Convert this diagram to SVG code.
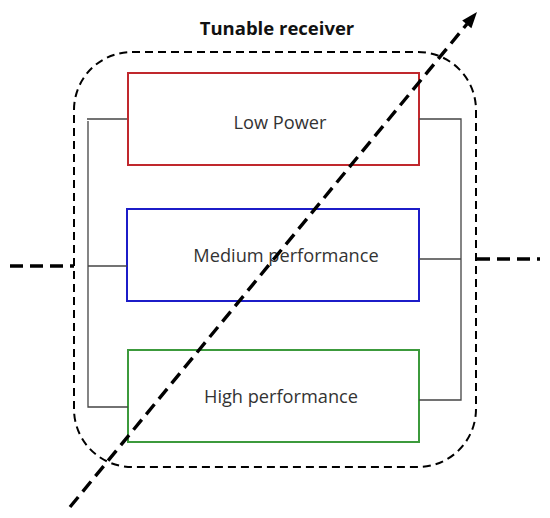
<svg xmlns="http://www.w3.org/2000/svg" width="550" height="518" viewBox="0 0 550 518">
<style>
.lbl{font-family:"Open Sans","Noto Sans",sans-serif;font-size:18.2px;fill:#333;text-anchor:middle}
.title{font-family:"Open Sans","Noto Sans",sans-serif;font-size:18.5px;font-weight:bold;fill:#111;text-anchor:middle}
.box{fill:none;stroke-width:2}
.wire{fill:none;stroke:#444;stroke-width:1.3}
.dash{fill:none;stroke:#000;stroke-width:3.4;stroke-dasharray:13 7}
</style>
<rect width="550" height="518" fill="#fff"/>
<g id="receiver">
<rect x="74" y="52" width="402" height="415" rx="58" ry="58" fill="none" stroke="#000" stroke-width="2" stroke-dasharray="8 5"/>
<text class="title" x="277" y="35">Tunable receiver</text>
</g>
<g id="low-power">
<rect class="box" x="128" y="73" width="291" height="92" stroke="#c0282d"/>
<text class="lbl" x="280" y="129">Low Power</text>
</g>
<g id="medium-performance">
<rect class="box" x="127" y="209" width="292" height="92" stroke="#1c1cc8"/>
<text class="lbl" x="286" y="262">Medium performance</text>
</g>
<g id="high-performance">
<rect class="box" x="128" y="350" width="291" height="92" stroke="#3c9a3c"/>
<text class="lbl" x="281" y="403">High performance</text>
</g>
<g id="connectors">
<polyline class="wire" points="127,119 87,119"/>
<polyline class="wire" points="88,121 88,407 128,407"/>
<line class="wire" x1="88" y1="266" x2="127" y2="266"/>
<polyline class="wire" points="419,119 461,119 461,400 419,400"/>
<line class="wire" x1="419" y1="259" x2="461" y2="259"/>
<line class="dash" x1="10" y1="266" x2="74" y2="266"/>
<line class="dash" x1="477" y1="259" x2="540" y2="259"/>
<line class="dash" x1="70" y1="507" x2="467" y2="24"/>
<polygon points="477,12 471.4,28.2 462.2,20.6" fill="#000"/>
</g>
</svg>
